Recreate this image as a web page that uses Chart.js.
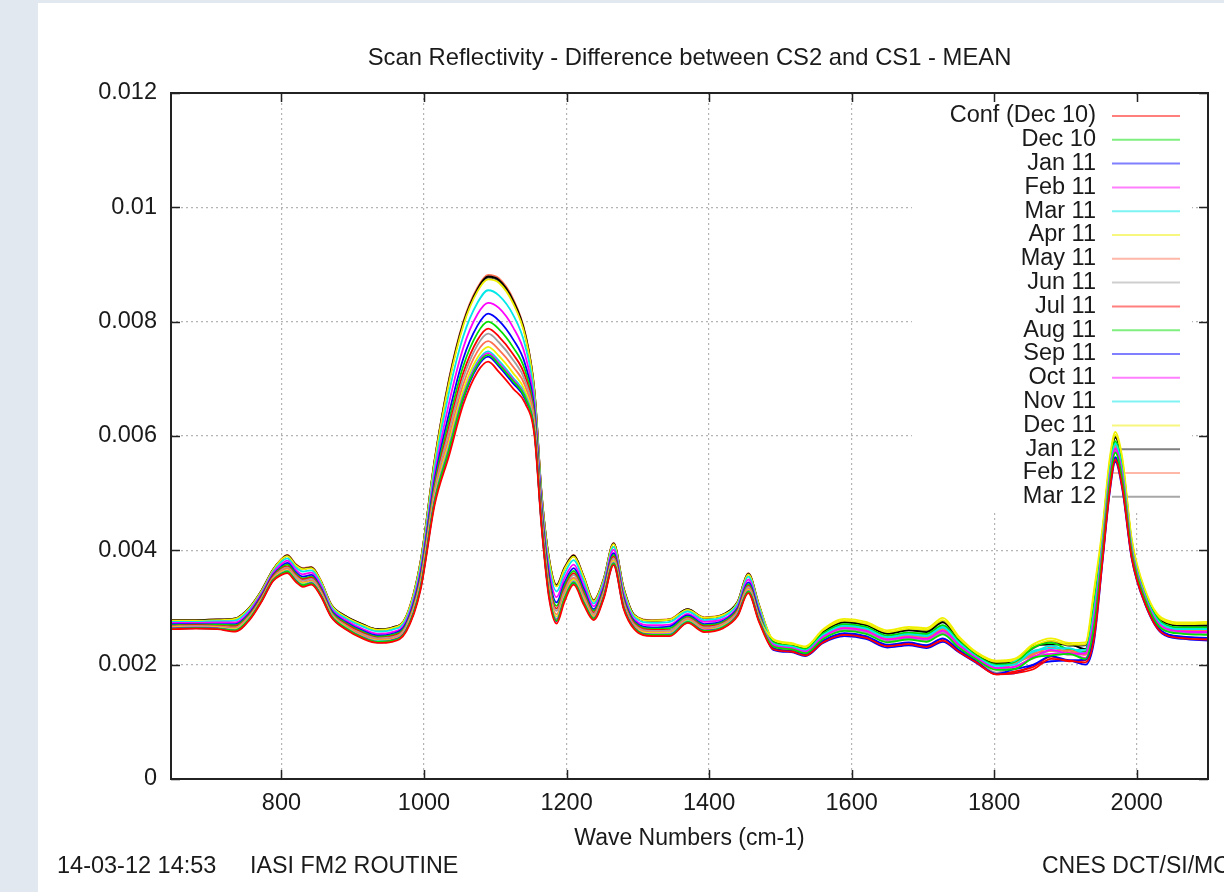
<!DOCTYPE html>
<html>
<head>
<meta charset="utf-8">
<script src="https://cdn.jsdelivr.net/npm/chart.js@4/dist/chart.umd.min.js"></script>
<style>
html,body{margin:0;padding:0;background:#e2e8ef;}
canvas{display:block;}
</style>
</head>
<body>
<canvas id="c" width="1224" height="892"></canvas>
<script>
// ---- DATA ----
const waveNumbers = [645,680,710,735,755,772,788,800,808,820,830,842,855,870,890,915,935,955,975,995,1015,1035,1055,1075,1090,1105,1125,1142,1155,1165,1175,1186,1197,1210,1224,1238,1252,1266,1280,1295,1320,1345,1370,1393,1420,1440,1455,1470,1490,1515,1535,1560,1590,1620,1650,1680,1705,1728,1750,1775,1803,1828,1855,1880,1905,1928,1940,1952,1962,1970,1980,1993,2012,2035,2065,2100];

const seriesLabels = ["Conf (Dec 10)","Dec 10","Jan 11","Feb 11","Mar 11","Apr 11","May 11","Jun 11","Jul 11","Aug 11","Sep 11","Oct 11","Nov 11","Dec 11","Jan 12","Feb 12","Mar 12"];

const confDec10 = [0.00262,0.00263,0.00262,0.00258,0.00278,0.00310,0.00346,0.00357,0.00360,0.00345,0.00336,0.00340,0.00320,0.00283,0.00262,0.00245,0.00238,0.00240,0.00258,0.00330,0.00480,0.00565,0.00655,0.00712,0.00730,0.00712,0.00683,0.00657,0.00600,0.00440,0.00320,0.00272,0.00310,0.00340,0.00305,0.00278,0.00315,0.00374,0.00298,0.00262,0.00250,0.00250,0.00273,0.00257,0.00264,0.00285,0.00325,0.00275,
0.00227,0.00223,0.00216,0.00239,0.00252,0.00247,0.00232,0.00236,0.00231,0.00242,0.00223,0.00204,0.00183,0.00185,0.00192,0.00210,0.00207,0.00204,0.00245,0.00383,0.00503,0.00558,0.00508,0.00387,0.00306,0.00256,0.00246,0.00244];
const dec10 = [0.00263,0.00264,0.00263,0.00260,0.00280,0.00312,0.00348,0.00359,0.00363,0.00347,0.00339,0.00342,0.00322,0.00285,0.00264,0.00247,0.00240,0.00242,0.00260,0.00334,0.00486,0.00576,0.00667,0.00724,0.00742,0.00725,0.00696,0.00667,0.00606,0.00445,0.00326,0.00277,0.00315,0.00344,0.00309,0.00281,0.00318,0.00377,0.00301,0.00264,0.00252,0.00252,0.00275,0.00259,0.00266,0.00287,0.00328,0.00277,
0.00232,0.00227,0.00220,0.00245,0.00259,0.00254,0.00239,0.00244,0.00240,0.00253,0.00230,0.00209,0.00191,0.00192,0.00212,0.00216,0.00219,0.00210,0.00267,0.00398,0.00518,0.00571,0.00522,0.00396,0.00313,0.00263,0.00254,0.00252];
const jan11 = [0.00263,0.00264,0.00263,0.00259,0.00279,0.00311,0.00347,0.00359,0.00362,0.00347,0.00338,0.00342,0.00322,0.00284,0.00263,0.00247,0.00239,0.00242,0.00260,0.00333,0.00485,0.00573,0.00664,0.00721,0.00739,0.00722,0.00692,0.00664,0.00605,0.00444,0.00324,0.00276,0.00314,0.00343,0.00308,0.00280,0.00317,0.00376,0.00300,0.00264,0.00252,0.00252,0.00274,0.00259,0.00265,0.00287,0.00327,0.00277,
0.00229,0.00224,0.00218,0.00242,0.00255,0.00250,0.00235,0.00239,0.00234,0.00246,0.00226,0.00206,0.00184,0.00192,0.00200,0.00215,0.00208,0.00209,0.00254,0.00389,0.00509,0.00563,0.00513,0.00390,0.00309,0.00259,0.00249,0.00247];
const feb11 = [0.00264,0.00265,0.00264,0.00260,0.00280,0.00312,0.00348,0.00360,0.00363,0.00348,0.00339,0.00343,0.00323,0.00285,0.00264,0.00248,0.00240,0.00243,0.00261,0.00335,0.00488,0.00579,0.00670,0.00727,0.00745,0.00728,0.00699,0.00669,0.00608,0.00446,0.00327,0.00279,0.00316,0.00345,0.00310,0.00282,0.00319,0.00378,0.00302,0.00265,0.00253,0.00253,0.00275,0.00260,0.00266,0.00288,0.00329,0.00278,
0.00235,0.00229,0.00223,0.00249,0.00264,0.00259,0.00244,0.00248,0.00245,0.00259,0.00235,0.00212,0.00194,0.00196,0.00213,0.00226,0.00219,0.00220,0.00281,0.00407,0.00527,0.00578,0.00530,0.00401,0.00316,0.00267,0.00258,0.00257];
const mar11 = [0.00264,0.00265,0.00264,0.00261,0.00281,0.00312,0.00348,0.00360,0.00364,0.00349,0.00340,0.00344,0.00323,0.00286,0.00265,0.00248,0.00241,0.00243,0.00261,0.00336,0.00490,0.00581,0.00672,0.00730,0.00748,0.00732,0.00702,0.00672,0.00610,0.00447,0.00328,0.00280,0.00317,0.00346,0.00311,0.00282,0.00319,0.00379,0.00302,0.00265,0.00253,0.00254,0.00276,0.00260,0.00267,0.00288,0.00329,0.00279,
0.00237,0.00232,0.00225,0.00252,0.00268,0.00263,0.00248,0.00253,0.00250,0.00265,0.00239,0.00214,0.00198,0.00200,0.00224,0.00228,0.00229,0.00220,0.00294,0.00416,0.00536,0.00586,0.00538,0.00406,0.00320,0.00271,0.00262,0.00262];
const apr11 = [0.00265,0.00266,0.00265,0.00262,0.00282,0.00313,0.00349,0.00362,0.00365,0.00350,0.00342,0.00345,0.00325,0.00287,0.00266,0.00249,0.00242,0.00244,0.00263,0.00339,0.00494,0.00588,0.00680,0.00737,0.00756,0.00740,0.00710,0.00678,0.00614,0.00450,0.00332,0.00284,0.00320,0.00349,0.00314,0.00284,0.00321,0.00381,0.00304,0.00266,0.00255,0.00255,0.00277,0.00261,0.00268,0.00289,0.00331,0.00280,
0.00245,0.00238,0.00232,0.00262,0.00280,0.00275,0.00260,0.00266,0.00264,0.00282,0.00250,0.00222,0.00207,0.00210,0.00236,0.00246,0.00238,0.00239,0.00330,0.00440,0.00560,0.00607,0.00560,0.00420,0.00330,0.00282,0.00274,0.00275];
const may11 = [0.00266,0.00267,0.00266,0.00264,0.00283,0.00315,0.00351,0.00364,0.00368,0.00352,0.00344,0.00347,0.00327,0.00288,0.00268,0.00251,0.00244,0.00246,0.00264,0.00342,0.00499,0.00597,0.00690,0.00748,0.00766,0.00751,0.00721,0.00687,0.00619,0.00454,0.00337,0.00288,0.00324,0.00352,0.00317,0.00286,0.00323,0.00383,0.00307,0.00268,0.00257,0.00257,0.00279,0.00263,0.00270,0.00291,0.00333,0.00282,
0.00236,0.00230,0.00224,0.00250,0.00265,0.00260,0.00245,0.00250,0.00247,0.00261,0.00236,0.00213,0.00193,0.00201,0.00219,0.00224,0.00225,0.00217,0.00285,0.00410,0.00530,0.00581,0.00533,0.00403,0.00318,0.00269,0.00260,0.00259];
const jun11 = [0.00267,0.00268,0.00267,0.00265,0.00285,0.00316,0.00352,0.00366,0.00370,0.00355,0.00347,0.00350,0.00329,0.00290,0.00269,0.00253,0.00246,0.00248,0.00267,0.00346,0.00506,0.00608,0.00701,0.00759,0.00779,0.00764,0.00733,0.00696,0.00626,0.00459,0.00342,0.00294,0.00329,0.00357,0.00321,0.00289,0.00326,0.00386,0.00310,0.00270,0.00259,0.00260,0.00281,0.00265,0.00272,0.00293,0.00336,0.00285,
0.00234,0.00228,0.00222,0.00248,0.00262,0.00257,0.00242,0.00247,0.00243,0.00257,0.00233,0.00211,0.00186,0.00197,0.00211,0.00224,0.00217,0.00218,0.00276,0.00404,0.00524,0.00576,0.00527,0.00399,0.00315,0.00266,0.00257,0.00255];
const jul11 = [0.00268,0.00269,0.00268,0.00267,0.00286,0.00318,0.00354,0.00368,0.00372,0.00357,0.00349,0.00352,0.00331,0.00291,0.00271,0.00255,0.00247,0.00250,0.00268,0.00349,0.00510,0.00616,0.00710,0.00768,0.00788,0.00774,0.00743,0.00704,0.00630,0.00463,0.00347,0.00298,0.00333,0.00360,0.00324,0.00291,0.00328,0.00389,0.00312,0.00272,0.00261,0.00261,0.00282,0.00267,0.00273,0.00295,0.00338,0.00286,
0.00228,0.00224,0.00217,0.00241,0.00254,0.00249,0.00234,0.00238,0.00233,0.00245,0.00225,0.00205,0.00183,0.00188,0.00196,0.00214,0.00206,0.00208,0.00251,0.00387,0.00507,0.00561,0.00512,0.00389,0.00308,0.00258,0.00248,0.00246];
const aug11 = [0.00269,0.00270,0.00270,0.00269,0.00288,0.00319,0.00355,0.00370,0.00375,0.00359,0.00351,0.00354,0.00333,0.00293,0.00273,0.00257,0.00249,0.00252,0.00270,0.00353,0.00517,0.00627,0.00722,0.00780,0.00800,0.00787,0.00755,0.00714,0.00637,0.00468,0.00352,0.00303,0.00338,0.00364,0.00328,0.00294,0.00331,0.00392,0.00315,0.00274,0.00263,0.00264,0.00284,0.00269,0.00275,0.00297,0.00341,0.00289,
0.00239,0.00233,0.00227,0.00255,0.00271,0.00266,0.00251,0.00256,0.00254,0.00269,0.00242,0.00216,0.00200,0.00203,0.00230,0.00238,0.00226,0.00222,0.00303,0.00422,0.00542,0.00591,0.00544,0.00410,0.00323,0.00274,0.00265,0.00265];
const sep11 = [0.00271,0.00271,0.00271,0.00271,0.00290,0.00321,0.00357,0.00372,0.00378,0.00362,0.00354,0.00357,0.00335,0.00295,0.00275,0.00259,0.00251,0.00254,0.00273,0.00358,0.00524,0.00639,0.00735,0.00793,0.00814,0.00802,0.00769,0.00725,0.00644,0.00473,0.00359,0.00309,0.00343,0.00369,0.00333,0.00297,0.00334,0.00395,0.00318,0.00276,0.00265,0.00267,0.00286,0.00271,0.00277,0.00299,0.00344,0.00292,
0.00226,0.00222,0.00215,0.00238,0.00250,0.00245,0.00230,0.00234,0.00229,0.00240,0.00222,0.00203,0.00184,0.00185,0.00199,0.00206,0.00207,0.00200,0.00240,0.00380,0.00500,0.00555,0.00505,0.00385,0.00305,0.00255,0.00245,0.00242];
const oct11 = [0.00273,0.00273,0.00274,0.00274,0.00293,0.00324,0.00360,0.00376,0.00382,0.00366,0.00358,0.00361,0.00339,0.00298,0.00278,0.00262,0.00254,0.00257,0.00276,0.00364,0.00534,0.00657,0.00754,0.00813,0.00833,0.00824,0.00790,0.00741,0.00654,0.00481,0.00368,0.00318,0.00351,0.00375,0.00339,0.00302,0.00339,0.00401,0.00323,0.00279,0.00269,0.00270,0.00289,0.00275,0.00280,0.00302,0.00349,0.00295,
0.00233,0.00228,0.00221,0.00246,0.00261,0.00256,0.00241,0.00245,0.00241,0.00255,0.00232,0.00210,0.00192,0.00193,0.00214,0.00219,0.00220,0.00212,0.00272,0.00401,0.00521,0.00573,0.00524,0.00397,0.00314,0.00264,0.00255,0.00254];
const nov11 = [0.00275,0.00275,0.00276,0.00277,0.00296,0.00326,0.00362,0.00380,0.00386,0.00370,0.00363,0.00365,0.00343,0.00301,0.00281,0.00266,0.00258,0.00261,0.00280,0.00371,0.00546,0.00676,0.00774,0.00833,0.00855,0.00846,0.00812,0.00758,0.00666,0.00489,0.00377,0.00328,0.00359,0.00383,0.00346,0.00307,0.00344,0.00406,0.00328,0.00283,0.00273,0.00275,0.00293,0.00278,0.00284,0.00306,0.00354,0.00300,
0.00238,0.00232,0.00226,0.00254,0.00270,0.00265,0.00250,0.00255,0.00252,0.00267,0.00240,0.00215,0.00195,0.00205,0.00221,0.00233,0.00226,0.00226,0.00299,0.00419,0.00539,0.00589,0.00541,0.00408,0.00321,0.00273,0.00264,0.00263];
const dec11 = [0.00277,0.00277,0.00278,0.00280,0.00299,0.00329,0.00365,0.00384,0.00390,0.00374,0.00367,0.00369,0.00347,0.00304,0.00284,0.00269,0.00261,0.00264,0.00284,0.00378,0.00556,0.00693,0.00793,0.00853,0.00874,0.00868,0.00832,0.00774,0.00676,0.00497,0.00387,0.00337,0.00367,0.00389,0.00353,0.00311,0.00348,0.00411,0.00333,0.00286,0.00277,0.00279,0.00296,0.00282,0.00287,0.00309,0.00358,0.00304,
0.00243,0.00236,0.00230,0.00260,0.00277,0.00272,0.00257,0.00263,0.00261,0.00278,0.00247,0.00220,0.00205,0.00207,0.00232,0.00242,0.00235,0.00236,0.00321,0.00434,0.00554,0.00602,0.00555,0.00417,0.00328,0.00279,0.00271,0.00272];
const jan12 = [0.00278,0.00278,0.00279,0.00281,0.00300,0.00330,0.00366,0.00384,0.00391,0.00375,0.00368,0.00370,0.00347,0.00305,0.00285,0.00270,0.00262,0.00265,0.00284,0.00379,0.00558,0.00697,0.00797,0.00857,0.00879,0.00873,0.00837,0.00778,0.00678,0.00499,0.00389,0.00339,0.00369,0.00391,0.00354,0.00312,0.00349,0.00412,0.00334,0.00287,0.00277,0.00279,0.00297,0.00282,0.00288,0.00310,0.00359,0.00304,
0.00241,0.00235,0.00229,0.00257,0.00274,0.00269,0.00254,0.00260,0.00257,0.00274,0.00244,0.00218,0.00202,0.00205,0.00233,0.00235,0.00236,0.00227,0.00312,0.00428,0.00548,0.00597,0.00549,0.00413,0.00325,0.00277,0.00268,0.00268];
const feb12 = [0.00278,0.00278,0.00279,0.00281,0.00300,0.00330,0.00366,0.00385,0.00392,0.00376,0.00369,0.00371,0.00348,0.00305,0.00285,0.00270,0.00262,0.00265,0.00285,0.00380,0.00560,0.00700,0.00800,0.00860,0.00882,0.00876,0.00840,0.00780,0.00680,0.00500,0.00390,0.00340,0.00370,0.00392,0.00355,0.00313,0.00350,0.00413,0.00335,0.00287,0.00278,0.00280,0.00297,0.00283,0.00288,0.00310,0.00360,0.00305,
0.00236,0.00231,0.00224,0.00251,0.00267,0.00262,0.00247,0.00252,0.00248,0.00263,0.00237,0.00213,0.00193,0.00202,0.00217,0.00230,0.00222,0.00223,0.00290,0.00413,0.00533,0.00584,0.00535,0.00404,0.00319,0.00270,0.00261,0.00260];
const mar12 = [0.00278,0.00278,0.00278,0.00280,0.00299,0.00329,0.00365,0.00384,0.00391,0.00375,0.00368,0.00370,0.00347,0.00304,0.00284,0.00269,0.00261,0.00264,0.00284,0.00379,0.00558,0.00696,0.00796,0.00856,0.00877,0.00871,0.00835,0.00776,0.00678,0.00498,0.00388,0.00338,0.00368,0.00390,0.00354,0.00312,0.00349,0.00412,0.00334,0.00286,0.00277,0.00279,0.00296,0.00282,0.00287,0.00309,0.00359,0.00304,
0.00242,0.00236,0.00229,0.00258,0.00276,0.00271,0.00256,0.00261,0.00259,0.00276,0.00246,0.00219,0.00204,0.00206,0.00229,0.00241,0.00233,0.00234,0.00317,0.00431,0.00551,0.00599,0.00552,0.00415,0.00326,0.00278,0.00270,0.00270];

const xTicks = [800,1000,1200,1400,1600,1800,2000];
const yTicks = [0,0.002,0.004,0.006,0.008,0.01,0.012];

const seriesValues = [confDec10,dec10,jan11,feb11,mar11,apr11,may11,jun11,jul11,aug11,sep11,oct11,nov11,dec11,jan12,feb12,mar12];
const seriesColors = ["#ff0000","#00e000","#0000ff","#ff00ff","#00e8e8","#f0f000","#ff7050","#a0a0a0","#ff0000","#00e000","#0000ff","#ff00ff","#00e8e8","#f0f000","#000000","#ff7050","#505050"];

// ---- RENDER ----
const FONT = '"Liberation Sans", Arial, Helvetica, sans-serif';
const TXT = '#1a1a1a';
Chart.defaults.font.family = FONT;

const deco = {
  id: 'deco',
  beforeDraw(chart) {
    const c = chart.ctx;
    c.save();
    c.fillStyle = '#e2e8ef';
    c.fillRect(0, 0, chart.width, chart.height);
    c.fillStyle = '#ffffff';
    c.fillRect(38, 3, chart.width - 38, chart.height - 3);
    c.restore();
  },
  beforeDatasetsDraw(chart) {
    const c = chart.ctx;
    c.save();
    // key area hides the grid
    c.fillStyle = '#ffffff';
    c.fillRect(912, 95, 1192 - 912, 512 - 95);
    // key
    c.font = '23.5px ' + FONT;
    c.textAlign = 'right';
    c.textBaseline = 'middle';
    seriesLabels.forEach((lab, i) => {
      const y = 116 + i * 23.8;
      c.fillStyle = TXT;
      c.fillText(lab, 1096, y);
      c.globalAlpha = 0.5;
      c.strokeStyle = seriesColors[i];
      c.lineWidth = 2;
      c.beginPath();
      c.moveTo(1112, y);
      c.lineTo(1180, y);
      c.stroke();
      c.globalAlpha = 1;
    });
    c.restore();
  },
  afterDatasetsDraw(chart) {
    const c = chart.ctx;
    const a = chart.chartArea;
    const xs = chart.scales.x, ys = chart.scales.y;
    c.save();
    c.strokeStyle = '#222';
    c.lineWidth = 1.5;
    c.beginPath();
    xTicks.forEach(v => {
      const px = Math.round(xs.getPixelForValue(v)) + 0.5;
      c.moveTo(px, a.bottom); c.lineTo(px, a.bottom - 9);
      c.moveTo(px, a.top); c.lineTo(px, a.top + 9);
    });
    yTicks.forEach(v => {
      const py = Math.round(ys.getPixelForValue(v)) + 0.5;
      c.moveTo(a.left, py); c.lineTo(a.left + 9, py);
      c.moveTo(a.right, py); c.lineTo(a.right - 9, py);
    });
    c.stroke();
    c.lineWidth = 2;
    c.strokeRect(a.left, a.top, a.right - a.left, a.bottom - a.top);
    // texts
    c.fillStyle = TXT;
    c.textBaseline = 'middle';
    c.textAlign = 'center';
    c.font = '23.8px ' + FONT;
    c.fillText('Scan Reflectivity - Difference between CS2 and CS1 - MEAN', (a.left + a.right) / 2, 58);
    c.font = '23px ' + FONT;
    c.fillText('Wave Numbers (cm-1)', (a.left + a.right) / 2, 839);
    c.textAlign = 'left';
    c.font = '23.5px ' + FONT;
    c.fillText('14-03-12 14:53', 57, 867);
    c.font = '23.3px ' + FONT;
    c.fillText('IASI FM2 ROUTINE', 250, 867);
    c.font = '23px ' + FONT;
    c.fillText('CNES DCT/SI/MO', 1042, 867);
    c.restore();
  }
};

const datasets = seriesLabels.map((lab, i) => ({
  label: lab,
  data: waveNumbers.map((x, j) => ({ x: x, y: seriesValues[i][j] })),
  borderColor: seriesColors[i],
  borderWidth: 1.8,
  pointRadius: 0,
  fill: false,
  cubicInterpolationMode: 'monotone'
}));

new Chart(document.getElementById('c'), {
  type: 'line',
  data: { datasets: datasets },
  plugins: [deco],
  options: {
    responsive: false,
    animation: false,
    devicePixelRatio: 1,
    layout: { padding: { left: 0, top: 93, right: 16, bottom: 0 } },
    plugins: { legend: { display: false }, title: { display: false }, tooltip: { enabled: false } },
    scales: {
      x: {
        type: 'linear', min: 645, max: 2100,
        afterFit(s) { s.height = 113; },
        afterBuildTicks(s) { s.ticks = xTicks.map(v => ({ value: v })); },
        ticks: { font: { size: 23.5 }, color: TXT, padding: 10, maxRotation: 0, autoSkip: false, callback: v => String(v) },
        grid: { color: '#b4b4b4', lineWidth: 1.2, drawTicks: false },
        border: { display: false, dash: [2, 3] }
      },
      y: {
        type: 'linear', min: 0, max: 0.012,
        afterFit(s) { s.width = 171; },
        afterBuildTicks(s) { s.ticks = yTicks.map(v => ({ value: v })); },
        ticks: { font: { size: 23.5 }, color: TXT, padding: 14, autoSkip: false, callback: v => String(+Number(v).toFixed(3)) },
        grid: { color: '#b4b4b4', lineWidth: 1.2, drawTicks: false },
        border: { display: false, dash: [2, 3] }
      }
    }
  }
});
</script>
</body>
</html>
